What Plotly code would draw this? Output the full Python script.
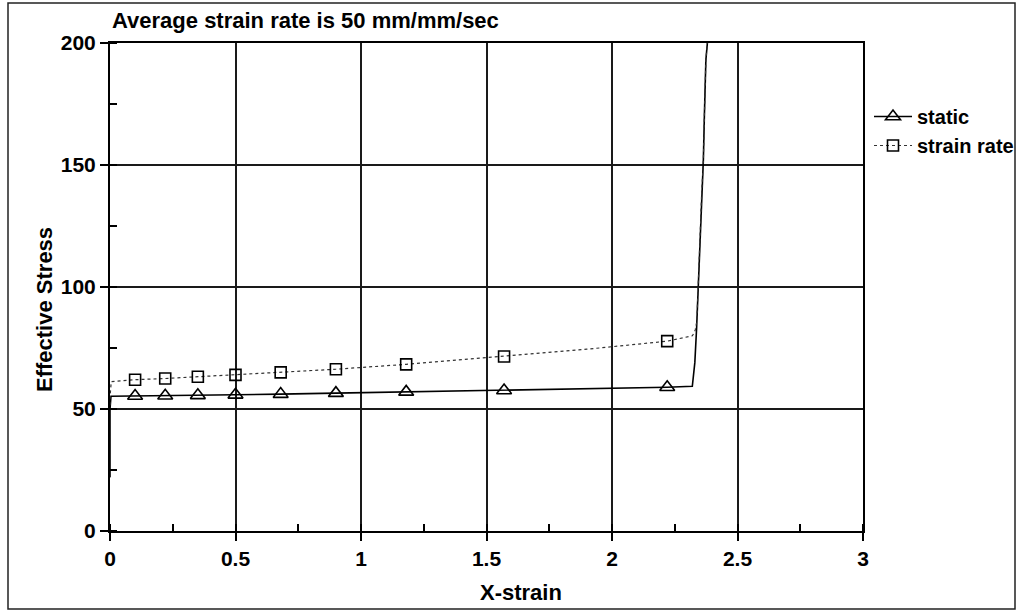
import plotly.graph_objects as go

# ---- data ----
title_text = "Average strain rate is 50 mm/mm/sec"
x_title = "X-strain"
y_title = "Effective Stress"
series_names = ["static", "strain rate"]

static_x = [0.0, 0.0, 0.004, 0.10, 0.22, 0.35, 0.50, 0.68, 0.90, 1.18, 1.57, 1.80, 2.05, 2.22,
            2.320, 2.324, 2.330, 2.337, 2.344, 2.351, 2.357, 2.364, 2.368, 2.374, 2.380]
static_y = [22.0, 50.0, 55.2, 55.3, 55.4, 55.6, 55.8, 56.1, 56.5, 57.0, 57.6, 58.0, 58.5, 58.9,
            59.3, 63.0, 69.0, 83.0, 100.0, 121.0, 138.0, 152.0, 170.0, 193.0, 200.0]

rate_x = [0.0, 0.0, 0.005, 0.10, 0.22, 0.35, 0.50, 0.68, 0.90, 1.18, 1.57, 1.90, 2.22,
          2.320, 2.326, 2.332, 2.338, 2.344, 2.351, 2.357, 2.364, 2.368, 2.374, 2.380]
rate_y = [22.0, 55.0, 61.2, 62.0, 62.5, 63.2, 64.0, 65.0, 66.3, 68.3, 71.5, 74.5, 77.8,
          80.0, 81.0, 82.5, 86.0, 100.0, 121.0, 138.0, 152.0, 170.0, 193.0, 200.0]

marker_x = [0.10, 0.22, 0.35, 0.50, 0.68, 0.90, 1.18, 1.57, 2.22]
static_marker_y = [55.3, 55.4, 55.6, 55.8, 56.1, 56.5, 57.0, 57.6, 58.9]
rate_marker_y = [62.0, 62.5, 63.2, 64.0, 65.0, 66.3, 68.3, 71.5, 77.8]

x_ticks = [0, 0.5, 1, 1.5, 2, 2.5, 3]
x_ticklabels = ["0", "0.5", "1", "1.5", "2", "2.5", "3"]
y_ticks = [0, 50, 100, 150, 200]
y_ticklabels = ["0", "50", "100", "150", "200"]

# ---- figure ----
FONT = "Liberation Sans, Arial, sans-serif"
W, H = 1020, 611
L, R, T, B = 110, 157, 43, 80
PW, PH = W - L - R, H - T - B

fig = go.Figure()

static_line = dict(color="black", width=1.6)
rate_line = dict(color="#333333", width=1.2, dash="dot")
tri = dict(symbol="triangle-up-open", size=13, color="black", line=dict(color="black", width=1.6))
sq = dict(symbol="square-open", size=11, color="black", line=dict(color="black", width=1.6))

fig.add_trace(go.Scatter(x=static_x, y=static_y, mode="lines", line=static_line,
                         showlegend=False, hoverinfo="skip"))
fig.add_trace(go.Scatter(x=rate_x, y=rate_y, mode="lines", line=rate_line,
                         showlegend=False, hoverinfo="skip"))
fig.add_trace(go.Scatter(x=marker_x, y=static_marker_y, mode="markers", marker=tri,
                         showlegend=False))
fig.add_trace(go.Scatter(x=marker_x, y=rate_marker_y, mode="markers", marker=sq,
                         showlegend=False))
# legend entries
fig.add_trace(go.Scatter(x=[None], y=[None], mode="lines+markers", line=static_line,
                         marker=tri, name=series_names[0]))
fig.add_trace(go.Scatter(x=[None], y=[None], mode="lines+markers", line=rate_line,
                         marker=sq, name=series_names[1]))

axis_common = dict(
    showline=True, linecolor="black", linewidth=2, mirror=True,
    showgrid=True, gridcolor="#1a1a1a", gridwidth=1.5,
    zeroline=False, ticks="outside", ticklen=8, tickwidth=1.5, tickcolor="black",
    tickfont=dict(family=FONT, size=21, color="black", weight="bold"),
)

fig.update_xaxes(range=[0, 3], tickmode="array", tickvals=x_ticks, ticktext=x_ticklabels,
                 minor=dict(ticks="inside", dtick=0.25, ticklen=7, tickwidth=1.5,
                            tickcolor="black", showgrid=False),
                 ticklabelstandoff=0, automargin=False, **axis_common)
fig.update_yaxes(range=[0, 200], tickmode="array", tickvals=y_ticks, ticktext=y_ticklabels,
                 minor=dict(ticks="inside", dtick=25, ticklen=7, tickwidth=1.5,
                            tickcolor="black", showgrid=False),
                 ticklabelstandoff=0, automargin=False, **axis_common)

fig.update_layout(
    width=W, height=H,
    margin=dict(l=L, r=R, t=T, b=B, autoexpand=False),
    paper_bgcolor="white", plot_bgcolor="white",
    font=dict(family=FONT, color="black"),
    legend=dict(x=(869 - L) / PW, xanchor="left", y=(H - B - 97) / PH, yanchor="top",
                font=dict(family=FONT, size=20, color="black", weight="bold"),
                bgcolor="rgba(0,0,0,0)", borderwidth=0, itemwidth=38,
                tracegroupgap=0),
    annotations=[
        dict(text=title_text, xref="paper", yref="paper", x=0, xanchor="left",
             y=(H - B - 21) / PH, yanchor="middle", showarrow=False,
             font=dict(family=FONT, size=22, color="black", weight="bold")),
        dict(text=x_title, xref="paper", yref="paper", x=(521 - L) / PW, xanchor="center",
             y=(H - B - 592) / PH, yanchor="middle", showarrow=False,
             font=dict(family=FONT, size=22, color="black", weight="bold")),
        dict(text=y_title, xref="paper", yref="paper", x=(44 - L) / PW, xanchor="center",
             y=(H - B - 310) / PH, yanchor="middle", showarrow=False, textangle=-90,
             font=dict(family=FONT, size=22, color="black", weight="bold")),
    ],
    shapes=[
        dict(type="rect", xref="paper", yref="paper",
             x0=(8 - L) / PW, x1=(1015 - L) / PW,
             y0=(H - B - 609) / PH, y1=(H - B - 3) / PH,
             line=dict(color="#222222", width=1.5), fillcolor="rgba(0,0,0,0)", layer="below"),
    ],
)

fig.write_html("out.html")
